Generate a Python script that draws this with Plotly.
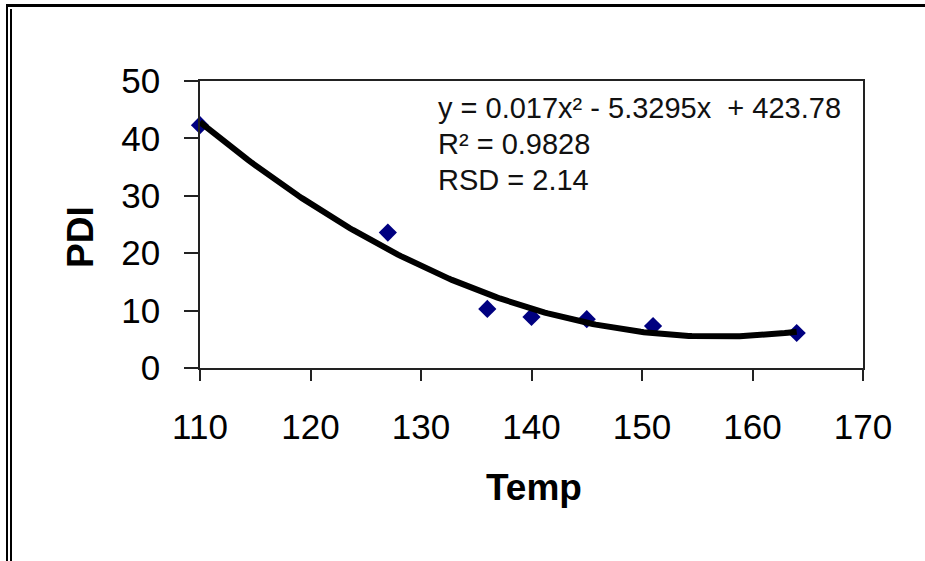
import numpy as np
import plotly.graph_objects as go

# Data
temp = [110, 127, 136, 140, 145, 151, 164]
pdi = [42.3, 23.6, 10.3, 8.9, 8.5, 7.3, 6.1]
x_ticks = [110, 120, 130, 140, 150, 160, 170]
y_ticks = [0, 10, 20, 30, 40, 50]
eq_lines = ["y = 0.017x² - 5.3295x  + 423.78",
            "R² = 0.9828",
            "RSD = 2.14"]
x_title = "Temp"
y_title = "PDI"

# polynomial trendline fitted to the data
coef = np.polyfit(temp, pdi, 2)
xs = np.linspace(min(temp), max(temp), 200)
ys = np.polyval(coef, xs)

W, H = 925, 561
L, R, T, B = 200, 62, 81, 193
PW, PH = W - L - R, H - T - B


def px(x):
    return (x - L) / PW


def py(y):
    return (H - B - y) / PH


FONT = "Liberation Sans, Arial, sans-serif"

fig = go.Figure()
fig.add_trace(go.Scatter(x=temp, y=pdi, mode="markers",
                         marker=dict(symbol="diamond", size=14, color="#000080",
                                     line=dict(width=0)),
                         cliponaxis=False, showlegend=False))
fig.add_trace(go.Scatter(x=xs, y=ys, mode="lines",
                         line=dict(color="black", width=6),
                         cliponaxis=False, showlegend=False))

annotations = []
for i, (t, yc) in enumerate(zip(eq_lines, [108, 144, 180])):
    annotations.append(dict(x=px(436), y=py(yc), xref="paper", yref="paper",
                            text=t, showarrow=False, xanchor="left", yanchor="middle",
                            font=dict(family=FONT, size=29, color="#111")))
annotations.append(dict(x=px(534), y=py(487), xref="paper", yref="paper", text=f"<b>{x_title}</b>",
                        showarrow=False, xanchor="center", yanchor="middle",
                        font=dict(family=FONT, size=37, color="black")))
annotations.append(dict(x=px(80), y=py(237), xref="paper", yref="paper", text=f"<b>{y_title}</b>",
                        showarrow=False, xanchor="center", yanchor="middle", textangle=-90,
                        font=dict(family=FONT, size=37, color="black")))

shapes = [
    dict(type="line", xref="paper", yref="paper", x0=px(6), x1=px(925), y0=py(5.5), y1=py(5.5),
         line=dict(color="black", width=3)),
    dict(type="line", xref="paper", yref="paper", x0=px(7), x1=px(7), y0=py(5), y1=py(561),
         line=dict(color="black", width=2)),
    dict(type="line", xref="paper", yref="paper", x0=px(11), x1=px(11), y0=py(9), y1=py(561),
         line=dict(color="black", width=2)),
]

fig.update_layout(
    width=W, height=H,
    margin=dict(l=L, r=R, t=T, b=B),
    paper_bgcolor="white", plot_bgcolor="white",
    annotations=annotations, shapes=shapes,
    xaxis=dict(range=[110, 170], tickvals=x_ticks, showgrid=False, zeroline=False,
               showline=True, linecolor="#222", linewidth=1.5, mirror=True,
               ticks="outside", ticklen=11, tickwidth=1.5, tickcolor="#222",
               ticklabelstandoff=16,
               tickfont=dict(family=FONT, size=35, color="black")),
    yaxis=dict(range=[0, 50], tickvals=y_ticks, showgrid=False, zeroline=False,
               showline=True, linecolor="#222", linewidth=1.5, mirror=True,
               ticks="outside", ticklen=14, tickwidth=1.5, tickcolor="#222",
               ticklabelstandoff=17,
               tickfont=dict(family=FONT, size=35, color="black")),
)

fig.write_html("out.html")
